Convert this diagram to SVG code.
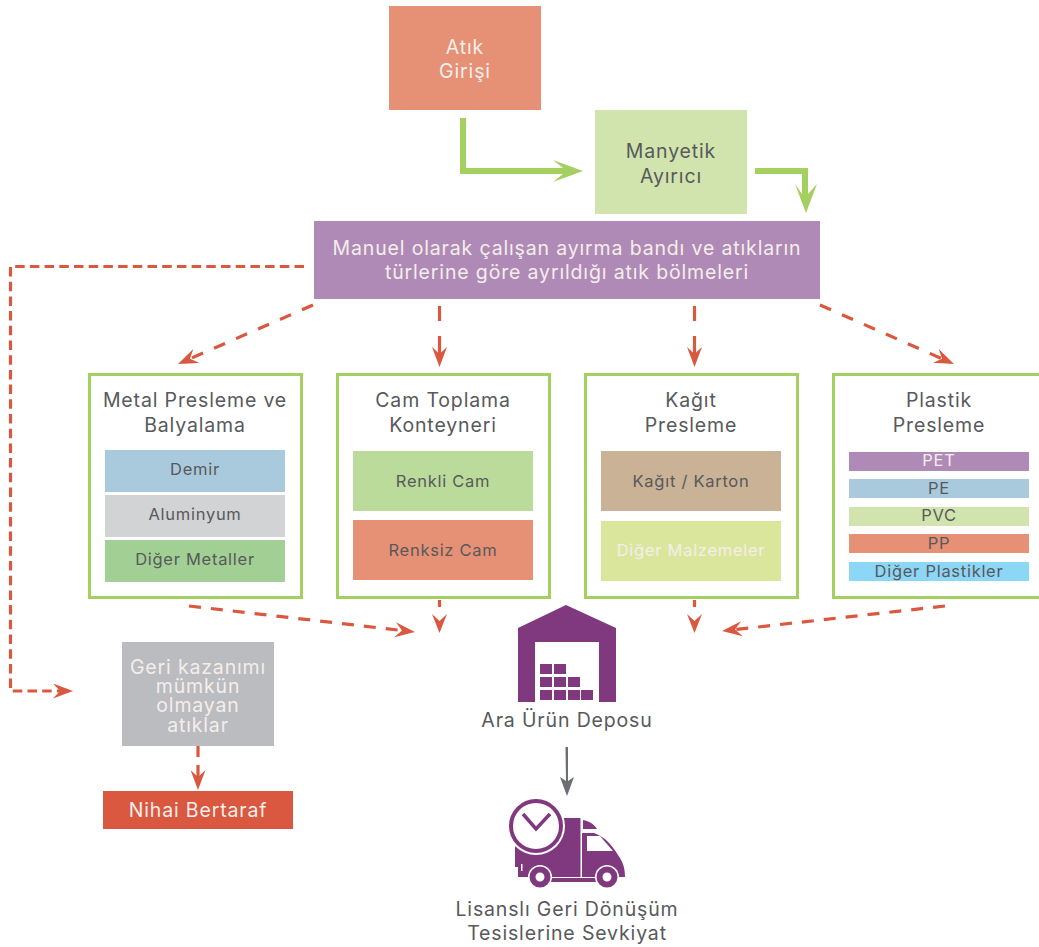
<svg xmlns="http://www.w3.org/2000/svg" width="1039" height="947" viewBox="0 0 1039 947">
<style>
text{font-family:"Inter","Liberation Sans",sans-serif;text-anchor:middle;fill:#58595b;font-size:19.500px;letter-spacing:.85px}
.w{fill:#f4eeea}
.s{font-size:16.500px;letter-spacing:.72px}
.d{fill:none;stroke:#d9583f;stroke-width:3.200;stroke-dasharray:12 12}
.r{stroke-dasharray:9.500 5.200}
.v{stroke-dasharray:15 15 30 0}
.c{stroke-dasharray:12 10}
.n{stroke-dasharray:11 8 20 0}
.g{fill:#a3d05f}
.b{fill:#fff;stroke:#a3d05f;stroke-width:3}
.p{fill:#80387e}
</style>
<defs>
<marker id="ah" viewBox="0 0 20 15" refX="8" refY="7.500" markerWidth="20" markerHeight="15" markerUnits="userSpaceOnUse" orient="auto"><path d="M0 0L20 7.500L0 15L7 7.500Z" fill="#d9583f"/></marker>
</defs>
<g id="connectors">
<path class="g" d="M460 118h6v50h97l-10-8 30 11-30 11 10-8H460Z"/>
<path class="g" d="M755 168h53v26l9-10-11 29-11-29 7 10v-20h-47Z"/>
<path class="d r" d="M304 266.500H10.500V691H61" marker-end="url(#ah)"/>
<path class="d" d="M313 305L189 359.200" marker-end="url(#ah)"/>
<path class="d v" d="M439.500 306V355" marker-end="url(#ah)"/>
<path class="d v" d="M694.500 306V355" marker-end="url(#ah)"/>
<path class="d" d="M820 305L943 359.200" marker-end="url(#ah)"/>
<path class="d c" d="M189 606L403 630.600" marker-end="url(#ah)"/>
<path d="M439.500 600V607M694.500 600V607" fill="none" stroke="#d9583f" stroke-width="3.200"/>
<path d="M432 614L439.500 633L447 614L439.500 621Z M687 614L694.500 633L702 614L694.500 621Z" fill="#d9583f"/>
<path class="d c" d="M945 606L734 629.700" marker-end="url(#ah)"/>
<path class="d n" d="M198 746V778" marker-end="url(#ah)"/>
<path d="M565.500 747h2.500v34l6-4-7 19-7-19 6 4Z" fill="#6d6e71"/>
</g>
<g id="atik-girisi"><rect x="389" y="6" width="152" height="104" fill="#e69176"/><text class="w" x="465" y="54">Atık</text><text class="w" x="465" y="78">Girişi</text></g>
<g id="manyetik"><rect x="595" y="110" width="152" height="104" fill="#d1e4ae"/><text x="671" y="158">Manyetik</text><text x="671" y="183">Ayırıcı</text></g>
<g id="ayirma-bandi"><rect x="314" y="221" width="506" height="78" fill="#b08ab6"/><text class="w" x="567" y="255">Manuel olarak çalışan ayırma bandı ve atıkların</text><text class="w" x="567" y="279">türlerine göre ayrıldığı atık bölmeleri</text></g>
<g id="metal"><rect class="b" x="89.500" y="374.500" width="212" height="223"/><text x="195" y="407">Metal Presleme ve</text><text x="195" y="432">Balyalama</text>
<rect x="105" y="450" width="180" height="42" fill="#a9c9dc"/><text class="s" x="195" y="475">Demir</text>
<rect x="105" y="495" width="180" height="42" fill="#d1d3d4"/><text class="s" x="195" y="520">Aluminyum</text>
<rect x="105" y="540" width="180" height="42" fill="#a1cf94"/><text class="s" x="195" y="565">Diğer Metaller</text></g>
<g id="cam"><rect class="b" x="337.500" y="374.500" width="212" height="223"/><text x="443" y="407">Cam Toplama</text><text x="443" y="432">Konteyneri</text>
<rect x="353" y="451" width="180" height="60" fill="#bbdb9a"/><text class="s" x="443" y="487">Renkli Cam</text>
<rect x="353" y="520" width="180" height="60" fill="#e69176"/><text class="s" x="443" y="556">Renksiz Cam</text></g>
<g id="kagit"><rect class="b" x="585.500" y="374.500" width="212" height="223"/><text x="691" y="407">Kağıt</text><text x="691" y="432">Presleme</text>
<rect x="601" y="451" width="180" height="60" fill="#c9b295"/><text class="s" x="691" y="487">Kağıt / Karton</text>
<rect x="601" y="521" width="180" height="60" fill="#dbe69d"/><text class="s w" x="691" y="556">Diğer Malzemeler</text></g>
<g id="plastik"><rect class="b" x="833.500" y="374.500" width="212" height="223"/><text x="939" y="407">Plastik</text><text x="939" y="432">Presleme</text>
<rect x="849" y="452" width="180" height="19" fill="#b08ab6"/><text class="s w" x="939" y="466">PET</text>
<rect x="849" y="479" width="180" height="19" fill="#a9c9dc"/><text class="s" x="939" y="494">PE</text>
<rect x="849" y="507" width="180" height="19" fill="#d1e4ae"/><text class="s" x="939" y="521">PVC</text>
<rect x="849" y="534" width="180" height="19" fill="#e69176"/><text class="s" x="939" y="549">PP</text>
<rect x="849" y="562" width="180" height="19" fill="#8cd6f6"/><text class="s" x="939" y="577">Diğer Plastikler</text></g>
<g id="geri-kazanim"><rect x="122" y="642" width="152" height="104" fill="#bbbcbf"/><text class="w"><tspan x="198" y="674">Geri kazanımı</tspan><tspan x="198" y="693">mümkün</tspan><tspan x="198" y="712">olmayan</tspan><tspan x="198" y="732">atıklar</tspan></text></g>
<g id="nihai"><rect x="103" y="791" width="190" height="38" fill="#d9583f"/><text class="w" x="198" y="817">Nihai Bertaraf</text></g>
<g id="depo"><path class="p" d="M566 605L616 628V702H599V642H535V702H518V628Z"/>
<path class="p" d="M540 664h12v10h-12ZM554 664h12v10h-12ZM540 677h12v10h-12ZM554 677h12v10h-12ZM568 677h12v10h-12ZM540 690h12v10h-12ZM554 690h12v10h-12ZM568 690h12v10h-12ZM581 690h12v10h-12Z"/>
<text x="567" y="727">Ara Ürün Deposu</text></g>
<g id="sevkiyat">
<path class="p" d="M515 830H540V818H580.500V877H551A11 11 0 0 0 529 877H518V867H515Z"/>
<path d="M521 864h1.500v7H521Z" fill="#fff"/>
<path class="p" d="M582 833H594C605 837 612 845 618 855C623 862 625 868 625 877H619A12 12 0 0 0 596 877H582Z"/>
<path d="M587 836H600L613 851H587Z" fill="#fff"/>
<path class="p" d="M583 820C589 821 594 824 597 829H583Z"/>
<path class="p" d="M550 878H597V882H550Z"/>
<circle cx="536" cy="826" r="29" fill="#fff"/>
<circle cx="536" cy="826" r="25" fill="#fff" stroke="#80387e" stroke-width="4"/>
<path d="M523 814L536 829L550 814" fill="none" stroke="#80387e" stroke-width="3.500"/>
<circle cx="540" cy="877" r="12" fill="#fff"/><circle cx="607" cy="877" r="12" fill="#fff"/>
<circle cx="540" cy="877" r="7.500" fill="#fff" stroke="#80387e" stroke-width="6"/>
<circle cx="607" cy="877" r="7.500" fill="#fff" stroke="#80387e" stroke-width="6"/>
<text x="567" y="916">Lisanslı Geri Dönüşüm</text><text x="567" y="940">Tesislerine Sevkiyat</text></g>
</svg>
